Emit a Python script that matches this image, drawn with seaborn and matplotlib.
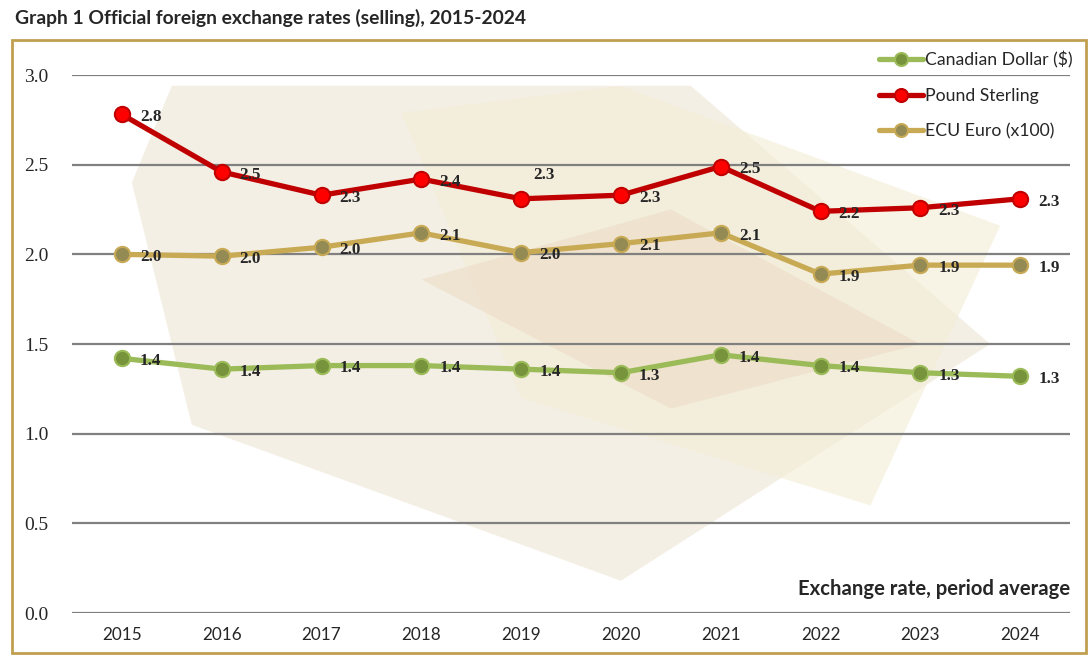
import numpy as np
import pandas as pd
import seaborn as sns
import matplotlib.pyplot as plt
from matplotlib.patches import Rectangle, Polygon

years = ["2015", "2016", "2017", "2018", "2019", "2020", "2021", "2022", "2023", "2024"]
cad = [1.42, 1.36, 1.38, 1.38, 1.36, 1.34, 1.44, 1.38, 1.34, 1.32]
gbp = [2.78, 2.46, 2.33, 2.42, 2.31, 2.33, 2.49, 2.24, 2.26, 2.31]
ecu = [2.00, 1.99, 2.04, 2.12, 2.01, 2.06, 2.12, 1.89, 1.94, 1.94]
series_names = ["Canadian Dollar ($)", "Pound Sterling", "ECU Euro (x100)"]

line_col = ["#9bbb59", "#c00000", "#c8aa55"]
face_col = ["#77933c", "#ff0000", "#948a54"]

sns.set_style("white")
plt.rcParams['font.family'] = ['Liberation Serif', 'DejaVu Sans']

fig = plt.figure(figsize=(10.89, 6.56), dpi=100)
ax = fig.add_axes([0.0661, 0.0655, 0.9165, 0.8201])

# faint gold-bar like backdrop
bg = [
    ([0.06, 0.12, 0.55, 0.92, 0.62, 0.1], [0.8, 0.35, 0.06, 0.5, 0.98, 0.98], "#ede5d2"),
    ([0.33, 0.55, 0.93, 0.8, 0.45], [0.93, 0.98, 0.72, 0.2, 0.4], "#f3edd5"),
    ([0.35, 0.6, 0.85, 0.6], [0.62, 0.75, 0.5, 0.38], "#eddcc6"),
]
for xs, ys, c in bg:
    ax.add_patch(Polygon(list(zip(xs, ys)), closed=True, transform=ax.transAxes,
                         facecolor=c, edgecolor="none", alpha=0.6, zorder=0))

for name, vals, lc, fc in zip(series_names, (cad, gbp, ecu), line_col, face_col):
    sns.lineplot(x=years, y=vals, color=lc, linewidth=3.8, marker="o", markersize=11,
                 markerfacecolor=fc, markeredgecolor=lc, markeredgewidth=1.5,
                 label=name, ax=ax, zorder=3)

ax.set_ylim(0, 3.0)
ax.set_xlim(-0.5, 9.5)
ax.set_yticks(np.arange(0, 3.01, 0.5))
ax.set_yticklabels([f"{v:.1f}" for v in np.arange(0, 3.01, 0.5)], fontsize=14, family="Liberation Serif")
ax.set_xticks(range(len(years)))
ax.set_xticklabels(years, fontsize=12.3, family="Lato")
ax.tick_params(axis="y", length=0, pad=17)
ax.tick_params(axis="x", length=0, pad=10)
ax.grid(axis="y", color="#808080", linewidth=1.6, zorder=1)
ax.set_axisbelow(True)
for s in ax.spines.values():
    s.set_visible(False)
ax.set_xlabel("")
ax.set_ylabel("")
ax.patch.set_alpha(0)

# data labels
for k, vals in enumerate((cad, gbp, ecu)):
    for i, v in enumerate(vals):
        off = (13, -2)
        if k == 1 and i == 4:
            off = (9, 17)
        ax.annotate(f"{v:.1f}", (i, v), xytext=off, textcoords="offset points",
                    ha="left", va="center", fontsize=12.3, fontweight="bold", zorder=5)

leg = ax.legend(loc="upper right", bbox_to_anchor=(1.01, 1.058), frameon=False,
                prop={"family": "Lato", "size": 12.7}, handlelength=2.5, labelspacing=1.12,
                handletextpad=0.15, borderaxespad=0, markerscale=0.85)

ax.text(1.0, 0.045, "Exchange rate, period average", transform=ax.transAxes, ha="right",
        va="center", fontsize=14.6, fontweight="bold", family="Lato")

fig.text(0.014, 0.972, "Graph 1 Official foreign exchange rates (selling), 2015-2024",
         ha="left", va="center", fontsize=13.9, fontweight="bold", family="Lato")

fig.patches.append(Rectangle((12 / 1089, 3 / 656), 1074 / 1089, 613 / 656, transform=fig.transFigure,
                             fill=False, edgecolor="#c0a050", linewidth=2))

fig.savefig("out.png", dpi=100)
